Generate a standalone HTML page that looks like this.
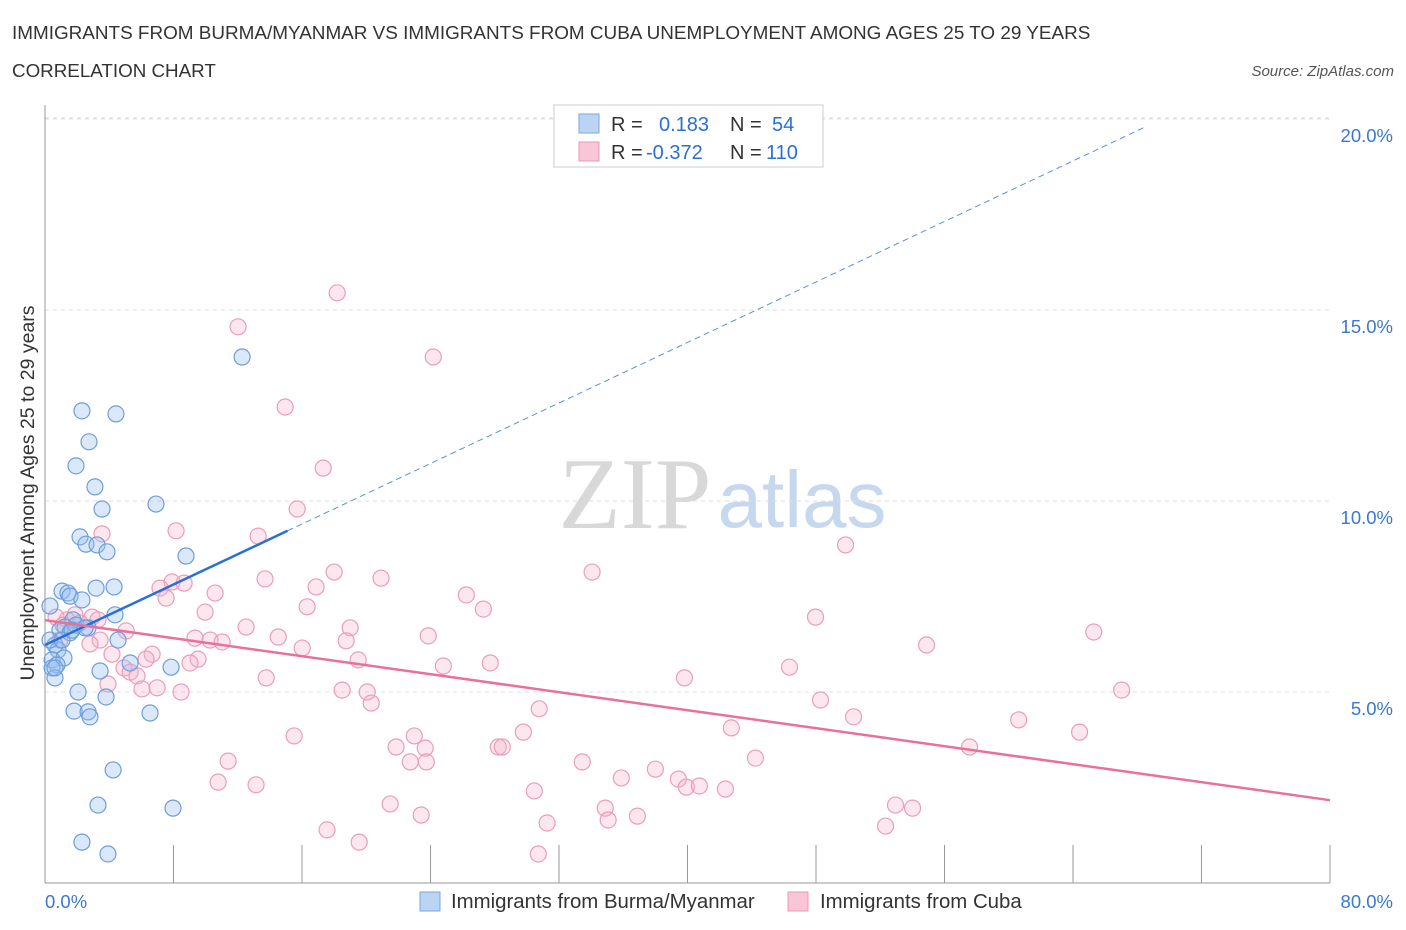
<!DOCTYPE html>
<html><head><meta charset="utf-8"><style>
body{margin:0;background:#fff;font-family:"Liberation Sans",sans-serif;}
svg{display:block}
</style></head><body>
<svg id="chart" width="1406" height="930">
<text x="12" y="39" font-size="18.9" fill="#333">IMMIGRANTS FROM BURMA/MYANMAR VS IMMIGRANTS FROM CUBA UNEMPLOYMENT AMONG AGES 25 TO 29 YEARS</text>
<text x="12" y="77" font-size="18.8" fill="#333">CORRELATION CHART</text>
<text x="1394" y="76" font-size="15" fill="#555" font-style="italic" text-anchor="end">Source: ZipAtlas.com</text>
<g>
<text x="635" y="528" font-size="102" fill="#d8d8d8" font-family="Liberation Serif,serif" text-anchor="middle">ZIP</text>
<text x="802" y="527" font-size="80" fill="#c5d8ee" text-anchor="middle">atlas</text>
</g>
<g id="grid"></g>
<g id="axes"></g>
<g id="marks"></g>
<text transform="translate(34,493) rotate(-90)" font-size="19.5" fill="#333" text-anchor="middle">Unemployment Among Ages 25 to 29 years</text>
<g>
<rect x="554" y="105" width="269" height="62" fill="#fff" stroke="#ccc"/>
<rect x="579" y="114" width="20" height="19" fill="#bcd4f3" stroke="#7aa6dd"/>
<rect x="579" y="142" width="20" height="19" fill="#f8c6d6" stroke="#e89ab5"/>
<text x="611" y="131" font-size="20" fill="#333">R =</text>
<text x="659" y="131" font-size="20" fill="#2a6fd6">0.183</text>
<text x="730" y="131" font-size="20" fill="#333">N =</text>
<text x="772" y="131" font-size="20" fill="#2a6fd6">54</text>
<text x="611" y="159" font-size="20" fill="#333">R =</text>
<text x="646" y="159" font-size="20" fill="#2a6fd6">-0.372</text>
<text x="730" y="159" font-size="20" fill="#333">N =</text>
<text x="766" y="159" font-size="20" fill="#2a6fd6">110</text>
</g>
<g>
<rect x="420" y="892" width="20" height="19" fill="#bcd4f3" stroke="#7aa6dd"/>
<text x="451" y="908" font-size="20.4" fill="#333">Immigrants from Burma/Myanmar</text>
<rect x="788" y="892" width="20" height="19" fill="#f8c6d6" stroke="#e89ab5"/>
<text x="820" y="908" font-size="20.4" fill="#333">Immigrants from Cuba</text>
</g>
</svg>
<script>
const yTicks=[5,10,15,20];
const yTickLabels=["5.0%","10.0%","15.0%","20.0%"];
const xTicks=[0,8,16,24,32,40,48,56,64,72,80];
const xEndLabels=["0.0%","80.0%"];
const burmaX=[12.27,2.30,4.42,2.74,1.93,3.11,6.91,3.55,2.18,2.55,3.24,3.86,8.78,1.06,1.43,3.18,4.30,1.56,2.30,4.36,0.31,1.74,1.25,1.93,0.93,1.56,2.68,4.55,0.62,0.81,0.44,1.18,0.75,5.30,7.85,3.43,0.44,0.62,2.06,3.80,1.81,2.68,2.80,6.54,4.24,3.30,7.97,2.30,3.92,0.31,1.06,1.68,2.49,0.62];
const burmaY=[13.77,12.36,12.28,11.55,10.92,10.37,9.92,9.79,9.06,8.87,8.85,8.67,8.56,7.64,7.59,7.72,7.75,7.51,7.41,7.02,7.25,6.89,6.70,6.75,6.62,6.55,6.68,6.36,6.23,6.10,5.84,5.89,5.71,5.76,5.65,5.55,5.63,5.37,5.00,4.87,4.50,4.48,4.35,4.45,2.96,2.04,1.96,1.07,0.76,6.36,6.36,6.62,6.68,5.63];
const cubaX=[18.19,12.02,24.17,14.95,17.32,15.70,3.55,8.16,13.27,49.84,34.06,13.70,20.92,18.00,7.91,8.66,7.16,7.54,10.59,16.88,26.23,27.29,16.32,9.97,47.97,65.29,54.88,23.86,12.52,5.05,19.00,2.93,0.69,1.37,2.18,3.43,9.34,10.28,11.03,14.52,18.75,16.01,2.80,4.17,6.67,6.29,9.53,9.03,19.50,24.80,27.72,46.35,4.92,5.30,5.73,13.77,39.81,3.92,6.04,6.98,8.47,18.50,20.06,20.31,67.03,48.28,30.77,50.34,60.62,15.51,22.99,29.78,42.73,64.41,21.86,23.67,28.22,28.47,57.56,11.40,44.23,22.74,23.74,33.45,38.00,10.78,13.14,35.88,39.43,39.93,40.74,42.36,30.46,21.49,34.88,52.95,54.01,23.42,36.88,35.06,31.26,17.56,52.33,19.56,30.71,1.12,1.87,3.30,0.93];
const cubaY=[15.45,14.56,13.77,12.46,10.86,9.79,9.14,9.22,9.08,8.85,8.14,7.96,7.98,8.14,7.88,7.85,7.72,7.46,7.59,7.75,7.54,7.17,7.23,7.09,6.96,6.57,6.23,6.47,6.70,6.60,6.68,6.96,6.96,6.89,6.81,6.36,6.41,6.36,6.31,6.44,6.34,6.15,6.26,5.99,5.99,5.86,5.86,5.76,5.84,5.68,5.76,5.65,5.63,5.52,5.42,5.37,5.37,5.21,5.08,5.11,5.00,5.05,5.00,4.71,5.05,4.79,4.56,4.35,4.27,3.85,3.85,3.95,4.06,3.95,3.56,3.53,3.56,3.56,3.56,3.19,3.27,3.17,3.17,3.17,2.98,2.64,2.57,2.75,2.72,2.51,2.54,2.46,2.41,2.07,1.96,2.04,1.96,1.78,1.75,1.65,1.57,1.39,1.49,1.07,0.76,6.75,7.02,6.89,6.36];
const burmaTrend=[6.23,0.198];
const burmaSolidEnd=[15.1];
const burmaDashEnd=[68.5];
const cubaTrend=[6.88,-0.0589];
const cubaTrendEnd=[80];

const NS="http://www.w3.org/2000/svg";
const X=v=>45+v*16.0625, Y=v=>883-v*38.2;
function mk(parent,tag,attrs){const e=document.createElementNS(NS,tag);for(const k in attrs)e.setAttribute(k,attrs[k]);document.getElementById(parent).appendChild(e);return e;}
yTicks.forEach((t,i)=>{
 const g=mk('grid','line',{x1:45,x2:1330,y1:Y(t),y2:Y(t),stroke:'#ddd','stroke-dasharray':'4,4'});
 
 
 const l=mk('axes','text',{x:1393,y:Y(t)+23,'font-size':18.5,fill:'#3a78d0','text-anchor':'end'});
 l.textContent=yTickLabels[i];
 
 
});
const topGrid=mk('grid','line',{x1:45,x2:1330,y1:118,y2:118,stroke:'#ddd','stroke-dasharray':'4,4'});


const ya=mk('axes','line',{x1:45,x2:45,y1:105,y2:883,stroke:'#999'});


const xa=mk('axes','line',{x1:45,x2:1330,y1:883,y2:883,stroke:'#999'});


xTicks.forEach(t=>{
 const k=mk('axes','line',{x1:X(t),x2:X(t),y1:845,y2:883,stroke:'#999'});
 
 
});
const xl0=mk('axes','text',{x:45,y:908,'font-size':18.5,fill:'#3a78d0'});xl0.textContent=xEndLabels[0];


const xl1=mk('axes','text',{x:1393,y:908,'font-size':18.5,fill:'#3a78d0','text-anchor':'end'});xl1.textContent=xEndLabels[1];



cubaX.forEach((x,i)=>{
 const c=mk('marks','circle',{cx:X(x),cy:Y(cubaY[i]),r:8,fill:'rgba(245,175,198,0.3)',stroke:'#eb9db9','stroke-width':1.2});
 
 
});
burmaX.forEach((x,i)=>{
 const c=mk('marks','circle',{cx:X(x),cy:Y(burmaY[i]),r:8,fill:'rgba(150,190,240,0.35)',stroke:'#6d9edb','stroke-width':1.2});
 
 
});
const bt=v=>burmaTrend[0]+burmaTrend[1]*v, ct=v=>cubaTrend[0]+cubaTrend[1]*v;
const l1=mk('marks','line',{x1:X(0),y1:Y(bt(0)),x2:X(burmaSolidEnd[0]),y2:Y(bt(burmaSolidEnd[0])),stroke:'#2a6fd6','stroke-width':2.5});


const l2=mk('marks','line',{x1:X(burmaSolidEnd[0]),y1:Y(bt(burmaSolidEnd[0])),x2:X(burmaDashEnd[0]),y2:Y(bt(burmaDashEnd[0])),stroke:'#5a90dd','stroke-width':1,'stroke-dasharray':'6,4'});


const l3=mk('marks','line',{x1:X(0),y1:Y(ct(0)),x2:X(cubaTrendEnd[0]),y2:Y(ct(cubaTrendEnd[0])),stroke:'#e8719a','stroke-width':2.5});


</script>
</body></html>
